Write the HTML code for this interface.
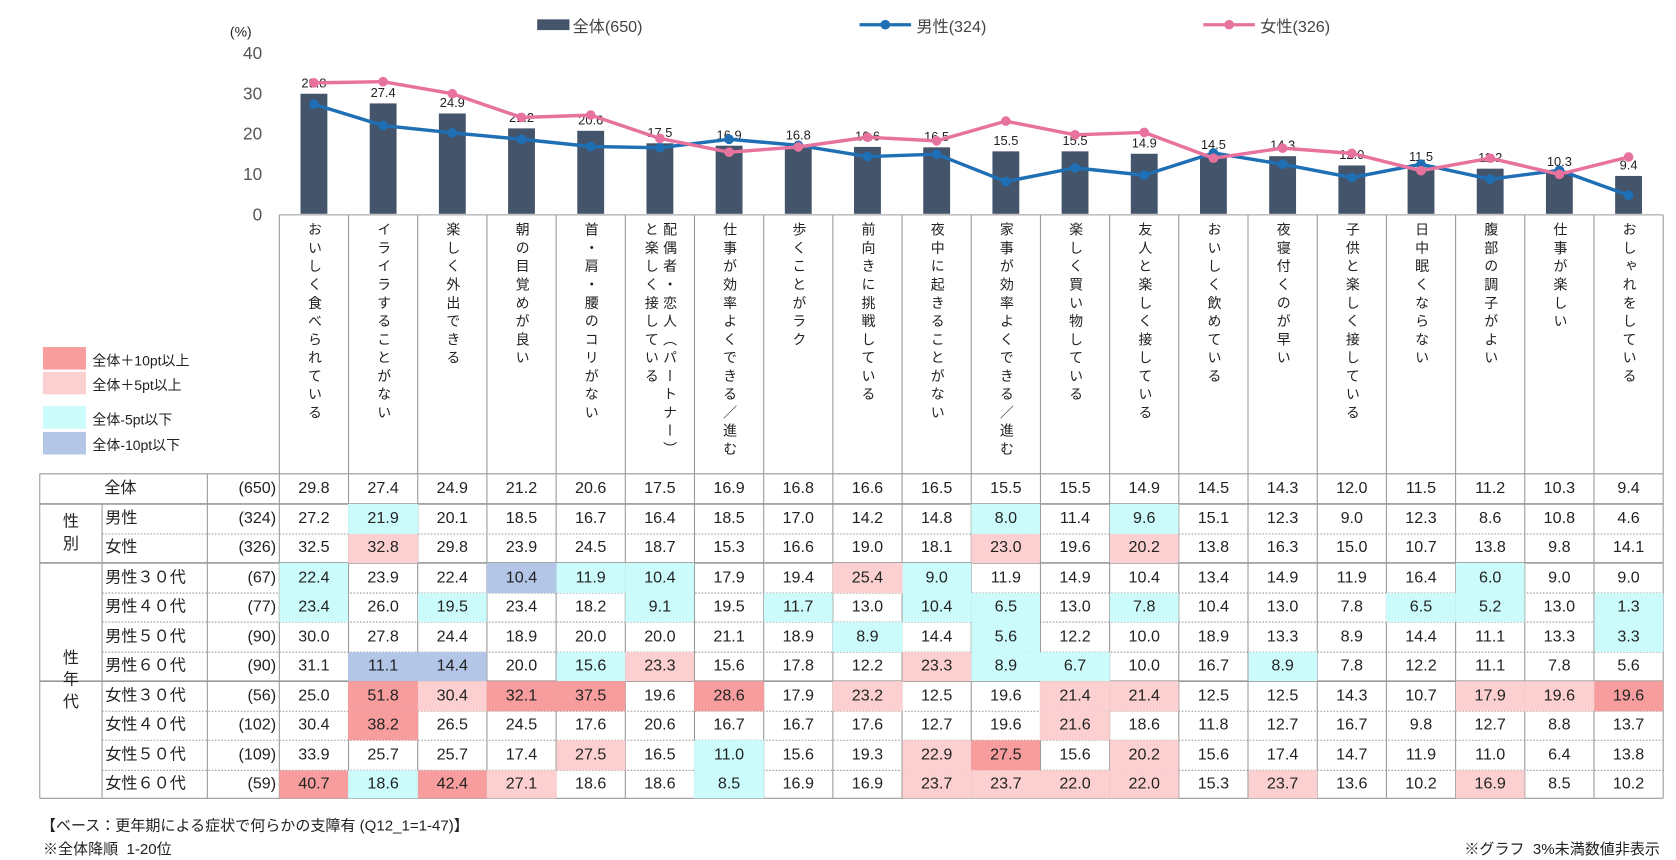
<!DOCTYPE html>
<html><head><meta charset="utf-8">
<style>
html,body{margin:0;padding:0;background:#fff;width:1676px;height:857px;overflow:hidden}
#stage{position:absolute;left:0;top:0;width:1560px;height:798px;transform:scale(1.0744);transform-origin:0 0;font-family:"Liberation Sans","Noto Sans CJK JP",sans-serif;color:#222}
.a{position:absolute;white-space:nowrap}
.vt{position:absolute;writing-mode:vertical-rl;font-size:13px;letter-spacing:4px;line-height:17px;top:207px}
.cell{position:absolute;font-size:15px;display:flex;align-items:center;justify-content:center;box-sizing:border-box}
</style></head><body>
<div id="stage">
<svg id="chart" width="1560" height="798" style="position:absolute;left:0;top:0"></svg>
<div class="a" style="left:214px;top:22px;font-size:13px">(%)</div>
<div class="a" style="left:533px;top:14px;font-size:15px;color:#444">全体(650)</div>
<div class="a" style="left:853px;top:14px;font-size:15px;color:#444">男性(324)</div>
<div class="a" style="left:1173px;top:14px;font-size:15px;color:#444">女性(326)</div>
<div id="legend2"></div>
<div id="cats"></div>
<div id="table"></div>
<div class="a" style="left:38px;top:758px;font-size:14px">【ベース：更年期による症状で何らかの支障有 (Q12_1=1-47)】</div>
<div class="a" style="left:40px;top:780px;font-size:14px">※全体降順&nbsp;&nbsp;1-20位</div>
<div class="a" style="right:15px;top:780px;font-size:14px">※グラフ&nbsp;&nbsp;3%未満数値非表示</div>
</div>
<script>
const categories=["おいしく食べられている","イライラすることがない","楽しく外出できる","朝の目覚めが良い","首・肩・腰のコリがない","配偶者・恋人（パートナー）と楽しく接している","仕事が効率よくできる／進む","歩くことがラク","前向きに挑戦している","夜中に起きることがない","家事が効率よくできる／進む","楽しく買い物している","友人と楽しく接している","おいしく飲めている","夜寝付くのが早い","子供と楽しく接している","日中眠くならない","腹部の調子がよい","仕事が楽しい","おしゃれをしている"];
const allValues=[29.8,27.4,24.9,21.2,20.6,17.5,16.9,16.8,16.6,16.5,15.5,15.5,14.9,14.5,14.3,12.0,11.5,11.2,10.3,9.4];
const maleValues=[27.2,21.9,20.1,18.5,16.7,16.4,18.5,17.0,14.2,14.8,8.0,11.4,9.6,15.1,12.3,9.0,12.3,8.6,10.8,4.6];
const femaleValues=[32.5,32.8,29.8,23.9,24.5,18.7,15.3,16.6,19.0,18.1,23.0,19.6,20.2,13.8,16.3,15.0,10.7,13.8,9.8,14.1];
const yTicks=[0,10,20,30,40];
const rowLabels=["全体","男性","女性","男性３０代","男性４０代","男性５０代","男性６０代","女性３０代","女性４０代","女性５０代","女性６０代"];
const rowNs=["(650)","(324)","(326)","(67)","(77)","(90)","(90)","(56)","(102)","(109)","(59)"];
const m30=[22.4,23.9,22.4,10.4,11.9,10.4,17.9,19.4,25.4,9.0,11.9,14.9,10.4,13.4,14.9,11.9,16.4,6.0,9.0,9.0];
const m40=[23.4,26.0,19.5,23.4,18.2,9.1,19.5,11.7,13.0,10.4,6.5,13.0,7.8,10.4,13.0,7.8,6.5,5.2,13.0,1.3];
const m50=[30.0,27.8,24.4,18.9,20.0,20.0,21.1,18.9,8.9,14.4,5.6,12.2,10.0,18.9,13.3,8.9,14.4,11.1,13.3,3.3];
const m60=[31.1,11.1,14.4,20.0,15.6,23.3,15.6,17.8,12.2,23.3,8.9,6.7,10.0,16.7,8.9,7.8,12.2,11.1,7.8,5.6];
const f30=[25.0,51.8,30.4,32.1,37.5,19.6,28.6,17.9,23.2,12.5,19.6,21.4,21.4,12.5,12.5,14.3,10.7,17.9,19.6,19.6];
const f40=[30.4,38.2,26.5,24.5,17.6,20.6,16.7,16.7,17.6,12.7,19.6,21.6,18.6,11.8,12.7,16.7,9.8,12.7,8.8,13.7];
const f50=[33.9,25.7,25.7,17.4,27.5,16.5,11.0,15.6,19.3,22.9,27.5,15.6,20.2,15.6,17.4,14.7,11.9,11.0,6.4,13.8];
const f60=[40.7,18.6,42.4,27.1,18.6,18.6,8.5,16.9,16.9,23.7,23.7,22.0,22.0,15.3,23.7,13.6,10.2,16.9,8.5,10.2];

const X0=260,CW=64.4,Y0=199,YS=150/40;
const xc=i=>X0+CW*i+CW/2, y=v=>Y0-v*YS;
const svg=document.getElementById('chart');const NS="http://www.w3.org/2000/svg";
function mk(t,a){const e=document.createElementNS(NS,t);for(const k in a)e.setAttribute(k,a[k]);svg.appendChild(e);return e;}
// y ticks
yTicks.forEach(t=>{const e=mk('text',{x:244,y:y(t)+6,'text-anchor':'end','font-size':16,fill:'#555'});e.textContent=t;

});
// legend markers
let e=mk('rect',{x:500,y:18,width:30,height:10,fill:'#44546a'});


[[800,'#1f6fb4'],[1120,'#e8729e']].forEach(([x0,c])=>{mk('line',{x1:x0,y1:23,x2:x0+48,y2:23,stroke:c,'stroke-width':3});
const m=mk('circle',{cx:x0+24,cy:23,r:4.5,fill:c});

});
// bars
allValues.forEach((v,i)=>{const b=mk('rect',{x:xc(i)-12.5,y:y(v),width:25,height:v*YS,fill:'#44546a'});


const t=mk('text',{x:xc(i),y:y(v)-6,'text-anchor':'middle','font-size':12,fill:'#222'});t.textContent=v.toFixed(1);

});
// lines
[[maleValues,'#1f6fb4','male'],[femaleValues,'#e8729e','female']].forEach(([arr,c,n])=>{
const p=mk('polyline',{points:arr.map((v,i)=>xc(i)+','+y(v)).join(' '),fill:'none',stroke:c,'stroke-width':3.2,'stroke-linejoin':'round'});


arr.forEach((v,i)=>{const m=mk('circle',{cx:xc(i),cy:y(v),r:4.5,fill:c});

});});
// axis baseline + header grid
mk('line',{x1:X0,y1:200,x2:X0+CW*20,y2:200,stroke:'#999','stroke-width':1});
for(let i=0;i<=20;i++)mk('line',{x1:X0+CW*i,y1:200,x2:X0+CW*i,y2:743,stroke:'#999','stroke-width':1});
// category labels
const cats=document.getElementById('cats');
categories.forEach((c,i)=>{
 const d=document.createElement('div');d.className='vt';
 
 
 if(c.startsWith('配偶者')){d.innerHTML='配偶者・恋人（パートナー）<br>と楽しく接している';d.style.left=(xc(i)-17)+'px';}
 else{d.textContent=c;d.style.left=(xc(i)-8.5)+'px';}
 cats.appendChild(d);});
// left legend
const lg=document.getElementById('legend2');
[["全体＋10pt以上","#f79d9d",323],["全体＋5pt以上","#fcd0d0",346],["全体-5pt以下","#ccfbfb",378],["全体-10pt以下","#b4c6e7",402]].forEach(([t,c,yy])=>{
 const s=document.createElement('div');s.className='a';s.style.cssText=`left:40px;top:${yy}px;width:40px;height:21px;background:${c}`;
 
 lg.appendChild(s);
 const l=document.createElement('div');l.className='a';l.style.cssText=`left:86px;top:${yy+2}px;font-size:13px`;l.textContent=t;
 
 lg.appendChild(l);});
// table
const rows=[allValues,maleValues,femaleValues,m30,m40,m50,m60,f30,f40,f50,f60];
const tops=[441,469,497,524,552,579,607,634,662,689,717,743];
const tb=document.getElementById('table');
function cell(x,t,w,h,txt,bg,name,align){const d=document.createElement('div');d.className='cell';
 d.style.cssText=`left:${x}px;top:${t}px;width:${w}px;height:${h}px;${bg?'background:'+bg+';':''}${align?'justify-content:'+align+';':''}`;
 d.textContent=txt;
 
 tb.appendChild(d);return d;}
rows.forEach((r,ri)=>{const t=tops[ri],h=tops[ri+1]-t;
 r.forEach((v,ci)=>{const dlt=v-allValues[ci];let bg='';
  if(ri>0){if(dlt>=10)bg='#f79d9d';else if(dlt>=5)bg='#fcd0d0';else if(dlt<=-10)bg='#b4c6e7';else if(dlt<=-5)bg='#ccfbfb';}
  cell(X0+CW*ci,t,CW,h,v.toFixed(1),bg,'table-cell');});
 const nm=cell(ri==0?97:98,t,95,h,rowLabels[ri],'','row-label','flex-start');
 cell(193,t,64,h,rowNs[ri],'','row-n','flex-end');});
cell(37,497-28,58,55,'','','group-label-sex').innerHTML='性<br>別';
cell(37,524,58,219,'','','group-label-age').innerHTML='性<br>年<br>代';
tb.querySelectorAll('.cell').forEach(c=>c.style.lineHeight='1.35');
// table lines
const L=(x1,y1,x2,y2,dash,w)=>mk('line',{x1,y1,x2,y2,stroke:dash?'#999':'#999','stroke-width':w||1,'stroke-dasharray':dash?'1.5,1.5':''});
L(37,441,X0,441);L(37,743,X0+CW*20,743);L(37,441,37,743);L(95,469,95,743);L(193,441,193,743);
[469,524,634].forEach(yy=>L(37,yy,X0+CW*20,yy,false,1.5));
L(X0,441,X0+CW*20,441);
[497].forEach(yy=>L(95,yy,X0+CW*20,yy,true));
[552,579,607,662,689,717].forEach(yy=>L(95,yy,X0+CW*20,yy,true));
</script>
</body></html>
